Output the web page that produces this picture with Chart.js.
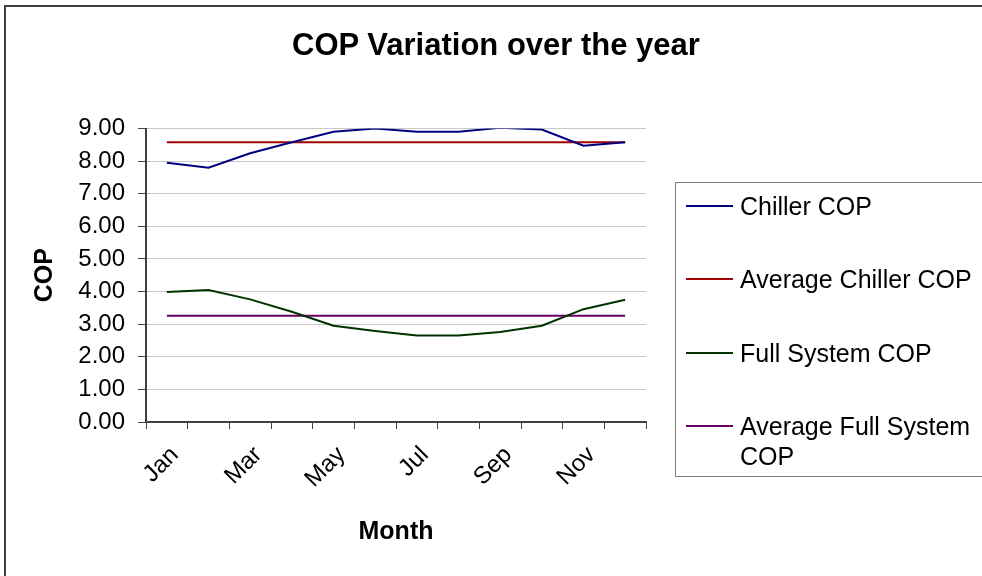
<!DOCTYPE html>
<html>
<head>
<meta charset="utf-8">
<script src="https://cdn.jsdelivr.net/npm/chart.js@4/dist/chart.umd.min.js"></script>
<style>
  html, body { margin: 0; padding: 0; background: #fff; }
  #wrap { position: relative; width: 982px; height: 576px; overflow: hidden; font-family: "Liberation Sans", Arial, sans-serif; }
  #frame { position: absolute; left: 4px; top: 5px; width: 1000px; height: 600px; border-left: 2px solid #404040; border-top: 2px solid #404040; }
  #title { position: absolute; left: 0; width: 992px; top: 27px; text-align: center; font-weight: bold; font-size: 31px; color: #000; }
  #legend { position: absolute; left: 675px; top: 182px; width: 330px; height: 295px; border: 1px solid #808080; box-sizing: border-box; }
  .item { position: absolute; left: 10px; font-size: 25px; line-height: 30px; color: #000; }
  .item .sw { position: absolute; left: 0; top: 14px; width: 47px; height: 2px; }
  .item .tx { margin-left: 54px; display: block; width: 250px; }
  canvas { position: absolute; left: 0; top: 0; }
</style>
</head>
<body>
<div id="wrap">
  <div id="frame"></div>
  <canvas id="c" width="982" height="576"></canvas>
  <div id="title">COP Variation over the year</div>
  <div id="legend"></div>
</div>
<script>
const months = ["Jan","Feb","Mar","Apr","May","Jun","Jul","Aug","Sep","Oct","Nov","Dec"];
const chillerCOP = [7.95, 7.80, 8.24, 8.58, 8.90, 9.00, 8.90, 8.90, 9.02, 8.97, 8.47, 8.58];
const avgChillerCOP = [8.58, 8.58, 8.58, 8.58, 8.58, 8.58, 8.58, 8.58, 8.58, 8.58, 8.58, 8.58];
const fullSystemCOP = [3.99, 4.05, 3.76, 3.38, 2.95, 2.79, 2.65, 2.65, 2.76, 2.95, 3.46, 3.75];
const avgFullSystemCOP = [3.26, 3.26, 3.26, 3.26, 3.26, 3.26, 3.26, 3.26, 3.26, 3.26, 3.26, 3.26];
const yTicks = [0, 1, 2, 3, 4, 5, 6, 7, 8, 9];

const seriesDefs = [
  { label: "Chiller COP", data: chillerCOP, color: "#000080" },
  { label: "Average Chiller COP", data: avgChillerCOP, color: "#a00000" },
  { label: "Full System COP", data: fullSystemCOP, color: "#003300" },
  { label: "Average Full System COP", data: avgFullSystemCOP, color: "#660066" }
];

const FONT = "'Liberation Sans', Arial, sans-serif";

const chart = new Chart(document.getElementById("c"), {
  type: "line",
  data: {
    labels: months,
    datasets: seriesDefs.map(s => ({
      label: s.label,
      data: s.data,
      borderColor: s.color,
      backgroundColor: s.color,
      borderWidth: 2,
      pointRadius: 0,
      tension: 0,
      fill: false
    }))
  },
  options: {
    responsive: false,
    animation: false,
    layout: { padding: { left: 0, right: 336, top: 128.5, bottom: 0 } },
    plugins: { legend: { display: false }, title: { display: false }, tooltip: { enabled: false } },
    scales: {
      x: {
        type: "category",
        offset: true,
        afterFit: s => { s.height = 154; },
        grid: { offset: true, drawOnChartArea: false, drawTicks: true, tickLength: 7, tickColor: "#404040", color: "#404040" },
        border: { color: "#404040", width: 2 },
        ticks: {
          autoSkip: false,
          minRotation: 45, maxRotation: 45,
          padding: 12,
          labelOffset: 8,
          color: "#000",
          font: { family: FONT, size: 24 },
          callback: function(v, i) { return i % 2 === 0 ? months[i] : ""; }
        },
        title: { display: true, text: "Month", color: "#000", font: { family: FONT, size: 25, weight: "bold" }, padding: { top: 0, bottom: 29 } }
      },
      y: {
        min: 0, max: 9,
        afterFit: s => { s.width = 146; },
        afterBuildTicks: s => { s.ticks = yTicks.map(v => ({ value: v })); },
        grid: { color: "#c8c8c8", lineWidth: 1, tickLength: 8, tickColor: "#404040" },
        border: { color: "#404040", width: 2 },
        ticks: {
          padding: 13,
          color: "#000",
          font: { family: FONT, size: 24 },
          callback: v => Number(v).toFixed(2)
        },
        title: { display: true, text: "COP", color: "#000", font: { family: FONT, size: 25, weight: "bold" }, padding: { top: 30, bottom: 0 } }
      }
    }
  }
});

// HTML legend built from datasets
const legend = document.getElementById("legend");
const rowTops = [8, 81, 155, 228];
chart.data.datasets.forEach((ds, i) => {
  const it = document.createElement("div");
  it.className = "item";
  it.style.top = rowTops[i] + "px";
  const sw = document.createElement("span");
  sw.className = "sw";
  sw.style.background = ds.borderColor;
  const tx = document.createElement("span");
  tx.className = "tx";
  tx.textContent = ds.label;
  it.appendChild(sw);
  it.appendChild(tx);
  legend.appendChild(it);
});
</script>
</body>
</html>
